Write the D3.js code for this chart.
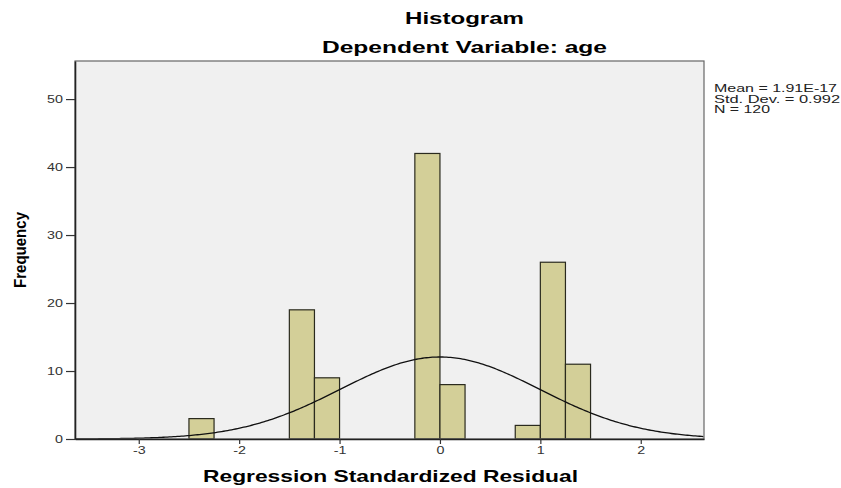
<!doctype html>
<html lang="en">
<head>
<meta charset="utf-8">
<title>Histogram</title>
<script src="https://cdn.jsdelivr.net/npm/d3@7"></script>
<style>
  body { margin: 0; background: #fff; }
  svg text { font-family: Arial, "Liberation Sans", sans-serif; }
</style>
</head>
<body>
<svg width="841" height="488"></svg>
<script>
// bins of width 0.25 (left edge) and counts
var binStarts = [-2.5, -1.5, -1.25, -0.25, 0, 0.75, 1.0, 1.25];
var counts = [3, 19, 9, 42, 8, 2, 26, 11];
var binWidth = 0.25;
var xTicks = [-3, -2, -1, 0, 1, 2];
var yTicks = [0, 10, 20, 30, 40, 50];
var mean = 1.91e-17, sd = 0.992, n = 120;
var statLines = ["Mean = 1.91E-17", "Std. Dev. = 0.992", "N = 120"];
var statWidths = [123, 126, 56];

var svg = d3.select("svg");
var plotL = 75, plotR = 704, plotT = 61, plotB = 439;

var x = d3.scaleLinear().domain([-3.635, 2.63]).range([plotL, plotR]);
var y = d3.scaleLinear().domain([0, 55.6]).range([plotB, plotT]);

svg.append("rect").attr("x", plotL).attr("y", plotT)
  .attr("width", plotR - plotL).attr("height", plotB - plotT)
  .attr("fill", "#f0f0f0");

var bins = binStarts.map(function(s, i) { return { x0: s, count: counts[i] }; });

svg.append("g").selectAll("rect").data(bins).enter().append("rect")
  .attr("x", function(d) { return x(d.x0); })
  .attr("y", function(d) { return y(d.count); })
  .attr("width", function(d) { return x(d.x0 + binWidth) - x(d.x0); })
  .attr("height", function(d) { return y(0) - y(d.count); })
  .attr("fill", "#d3cf98")
  .attr("stroke", "#2a2a1e")
  .attr("stroke-width", 1.2);

// normal curve
var pts = d3.range(-3.635, 2.631, 0.02).map(function(v) {
  var dens = Math.exp(-0.5 * Math.pow((v - mean) / sd, 2)) / (sd * Math.sqrt(2 * Math.PI));
  return [v, n * binWidth * dens];
});
svg.append("path").datum(pts)
  .attr("fill", "none").attr("stroke", "#111").attr("stroke-width", 1.3)
  .attr("d", d3.line().x(function(d) { return x(d[0]); }).y(function(d) { return y(d[1]); }));

// frame
svg.append("rect").attr("x", plotL).attr("y", plotT)
  .attr("width", plotR - plotL).attr("height", plotB - plotT)
  .attr("fill", "none").attr("stroke", "#666").attr("stroke-width", 1.2);

var yAxis = svg.append("g").attr("transform", "translate(" + plotL + ",0)")
  .call(d3.axisLeft(y).tickValues(yTicks).tickSize(9).tickSizeOuter(0).tickPadding(2)
    .tickFormat(function(d) { return String(d); }));
var xAxis = svg.append("g").attr("transform", "translate(0," + plotB + ")")
  .call(d3.axisBottom(x).tickValues(xTicks).tickSize(5).tickSizeOuter(0).tickPadding(2)
    .tickFormat(function(d) { return String(d); }));
[yAxis, xAxis].forEach(function(a) {
  a.select(".domain").attr("stroke", "#222").attr("stroke-width", 1.6);
  a.selectAll(".tick line").attr("stroke", "#333").attr("stroke-width", 1.2);
  a.selectAll(".tick text").attr("font-size", 11).attr("fill", "#333")
    .style("font-family", "Arial, 'Liberation Sans', sans-serif")
    .attr("transform", "scale(1.3,1)");
});
yAxis.selectAll(".tick text").attr("x", -12 / 1.3);

function wideText(tx, ty, str, size, len, anchor) {
  return svg.append("text").attr("x", tx).attr("y", ty).attr("text-anchor", anchor || "start")
    .attr("font-size", size).attr("font-weight", "bold")
    .attr("textLength", len).attr("lengthAdjust", "spacingAndGlyphs").text(str);
}
wideText(405, 24, "Histogram", 16, 119);
wideText(322, 53, "Dependent Variable: age", 16, 285);
wideText(203, 482, "Regression Standardized Residual", 16.5, 375);
svg.append("text").attr("transform", "translate(26,288) rotate(-90)")
  .attr("font-size", 17).attr("font-weight", "bold")
  .attr("textLength", 76).attr("lengthAdjust", "spacingAndGlyphs").text("Frequency");

svg.append("g").selectAll("text").data(statLines).enter().append("text")
  .attr("x", 714).attr("y", function(d, i) { return 92 + i * 10.5; })
  .attr("font-size", 11.5).attr("fill", "#222")
  .attr("textLength", function(d, i) { return statWidths[i]; })
  .attr("lengthAdjust", "spacingAndGlyphs")
  .text(function(d) { return d; });
</script>
</body>
</html>
